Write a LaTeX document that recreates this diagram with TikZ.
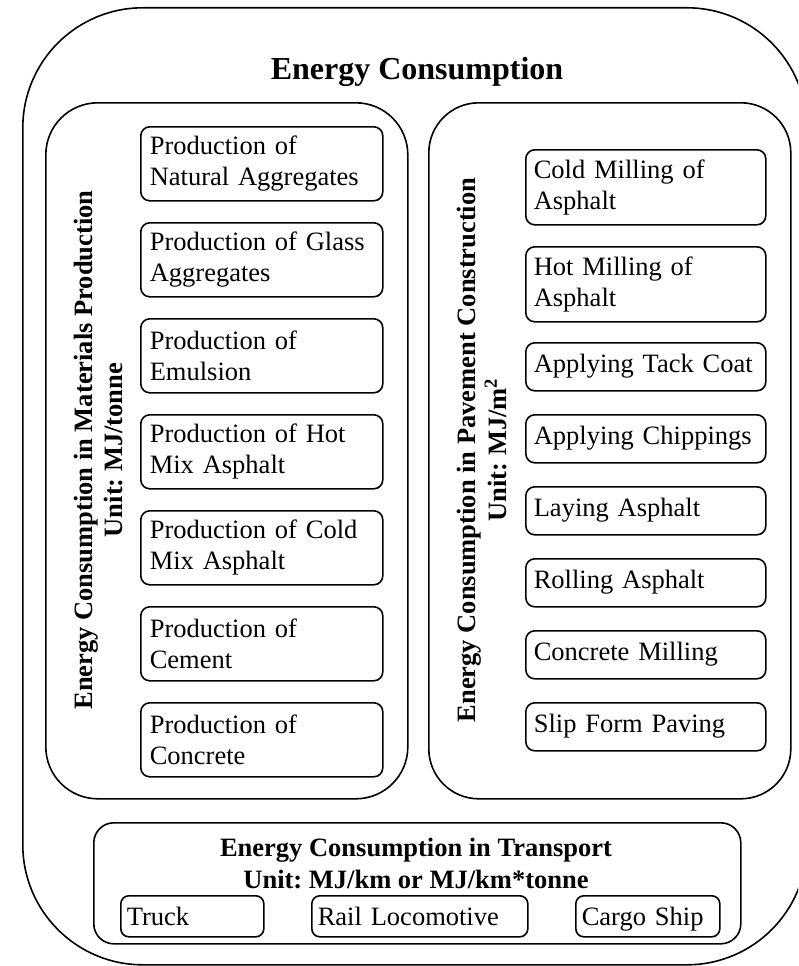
\documentclass[tikz,border=0pt]{standalone}
\usepackage{fontspec}
\setmainfont{Liberation Serif}
\frenchspacing
\newcommand\boxfont{\fontsize{26.5}{31}\selectfont}
\newcommand\headfont{\fontsize{26.5}{31}\selectfont\bfseries}
\newcommand\titlefont{\fontsize{32}{38}\selectfont\bfseries}
\begin{document}
\begin{tikzpicture}[x=1pt,y=-1pt,
  frame/.style={draw, line width=1.6pt, inner sep=0pt},
  panel/.style={frame, anchor=north west, rounded corners=#1},
  item/.style={frame, anchor=north west, rounded corners=9pt, font=\boxfont,
    align=left, inner xsep=9pt, inner ysep=0pt, text width=224pt},
  litem/.style={item, minimum height=74pt},
  ritem/.style={item, inner xsep=8pt, minimum height=75pt},
  rline/.style={item, inner xsep=8pt, minimum height=48pt, text height=18.5pt, text depth=6.5pt},
  sub/.style={frame, anchor=north west, rounded corners=8pt, font=\boxfont,
    align=left, inner xsep=6pt, inner ysep=0pt, minimum height=41pt,
    text height=17.5pt, text depth=0pt},
  head/.style={anchor=base, font=\headfont},
  vhead/.style={head, rotate=90}]
\useasboundingbox (0,0) rectangle (798,966);

% outer frame, running off the right edge of the page
\begin{scope}
  \clip (0,0) rectangle (798,966);
  \node[panel=120pt, minimum width=784pt, minimum height=957pt] (outer) at (22,7) {};
\end{scope}
\node[anchor=base, font=\titlefont] (title) at (417,80) {Energy Consumption};

% materials production
\node[panel=52pt, minimum width=362pt, minimum height=696pt] (matpanel) at (45,102) {};
\node[vhead] (mathead) at (92,450) {Energy Consumption in Materials Production};
\node[vhead] (matunit) at (122,450) {Unit: MJ/tonne};
\node[litem] (m1) at (140,126) {Production of\\Natural Aggregates};
\node[litem] (m2) at (140,222) {Production of Glass\\Aggregates};
\node[litem] (m3) at (140,318) {Production of\\Emulsion};
\node[litem] (m4) at (140,414) {Production of Hot\\Mix Asphalt};
\node[litem] (m5) at (140,510) {Production of Cold\\Mix Asphalt};
\node[litem] (m6) at (140,606) {Production of\\Cement};
\node[litem] (m7) at (140,702) {Production of\\Concrete};

% pavement construction
\node[panel=50pt, minimum width=362pt, minimum height=696pt] (pavpanel) at (428,102) {};
\node[vhead] (pavhead) at (475,450) {Energy Consumption in Pavement Construction};
\node[vhead] (pavunit) at (506,450) {Unit: MJ/m\textsuperscript{2}};
\node[ritem] (p1) at (525,149) {Cold Milling of\\Asphalt};
\node[ritem] (p2) at (525,246) {Hot Milling of\\Asphalt};
\node[rline] (p3) at (525,342) {Applying Tack Coat};
\node[rline] (p4) at (525,414) {Applying Chippings};
\node[rline] (p5) at (525,486) {Laying Asphalt};
\node[rline] (p6) at (525,558) {Rolling Asphalt};
\node[rline] (p7) at (525,630) {Concrete Milling};
\node[rline] (p8) at (525,702) {Slip Form Paving};

% transport
\node[panel=20pt, minimum width=647pt, minimum height=121pt] (trpanel) at (93,822) {};
\node[head] (trhead) at (416,856) {Energy Consumption in Transport};
\node[head] (trunit) at (416,888) {Unit: MJ/km or MJ/km*tonne};
\node[sub, text width=131pt] (t1) at (120,895) {Truck};
\node[sub, text width=204pt] (t2) at (311,895) {Rail Locomotive};
\node[sub, text width=132pt] (t3) at (575,895) {Cargo Ship};
\end{tikzpicture}
\end{document}
